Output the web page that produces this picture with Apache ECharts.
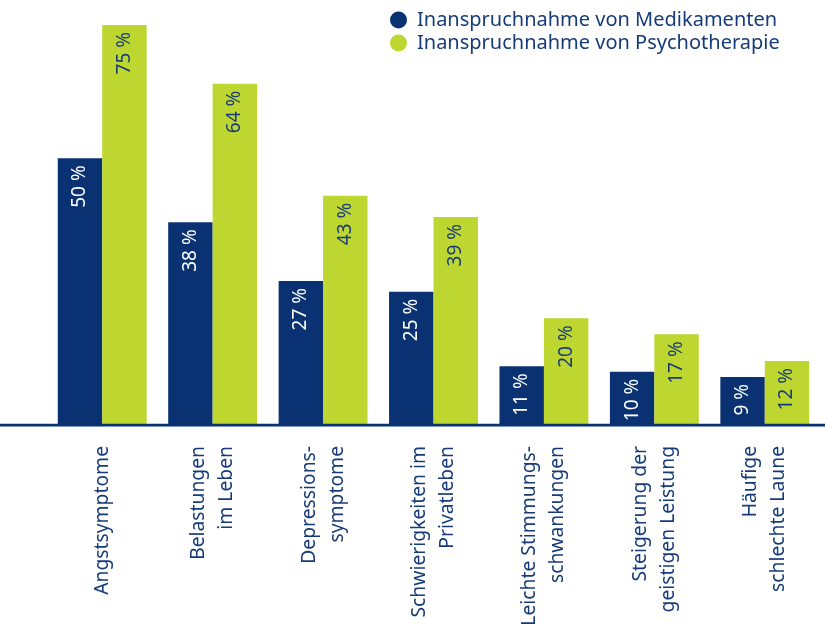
<!DOCTYPE html>
<html>
<head>
<meta charset="utf-8">
<script src="https://cdn.jsdelivr.net/npm/echarts@6/dist/echarts.min.js"></script>
<style>
  html, body { margin: 0; padding: 0; background: #ffffff; }
  #chart { width: 827px; height: 629px; }
</style>
</head>
<body>
<div id="chart"></div>
<script>
// Gründe für die Einnahme – Anteil in Prozent
var categories = [
  'Angstsymptome',
  'Belastungen\nim Leben',
  'Depressions-\nsymptome',
  'Schwierigkeiten im\nPrivatleben',
  'Leichte Stimmungs-\nschwankungen',
  'Steigerung der\ngeistigen Leistung',
  'Häufige\nschlechte Laune'
];
var medikamente = [50, 38, 27, 25, 11, 10, 9];
var psychotherapie = [75, 64, 43, 39, 20, 17, 12];
var seriesNames = ['Inanspruchnahme von Medikamenten', 'Inanspruchnahme von Psychotherapie'];

var BLUE = '#0a3272';
var GREEN = '#bed630';
var TEXT = '#163b78';
var FONT = '"Noto Sans", "Open Sans", sans-serif';

var chart = echarts.init(document.getElementById('chart'));

function barLabel(color) {
  return {
    show: true,
    position: 'insideTop',
    rotate: 90,
    align: 'right',
    verticalAlign: 'middle',
    distance: 7,
    color: color,
    fontFamily: FONT,
    fontSize: 19,
    formatter: function (p) { return p.value + ' %'; }
  };
}

chart.setOption({
  animation: false,
  textStyle: { fontFamily: FONT },
  legend: {
    orient: 'vertical',
    left: 385,
    top: 5,
    icon: 'circle',
    itemWidth: 17,
    itemHeight: 17,
    itemGap: 3,
    textStyle: { color: TEXT, fontSize: 20, fontFamily: FONT, padding: [0, 0, 0, 5] },
    data: seriesNames
  },
  grid: {
    left: 47, right: 7, top: 25, bottom: 204,
    containLabel: false,
    outerBoundsMode: 'none'
  },
  xAxis: {
    type: 'category',
    data: categories,
    axisLine: { show: false },
    axisTick: { show: false },
    axisLabel: {
      rotate: 90,
      margin: 21,
      color: TEXT,
      fontSize: 19.3,
      lineHeight: 28,
      fontFamily: FONT,
      interval: 0
    }
  },
  yAxis: {
    type: 'value',
    min: 0,
    max: 75,
    show: false,
    splitLine: { show: false }
  },
  series: [
    {
      name: seriesNames[0],
      type: 'bar',
      data: medikamente,
      barGap: '0%',
      barCategoryGap: '19.5%',
      itemStyle: { color: BLUE },
      label: barLabel('#ffffff')
    },
    {
      name: seriesNames[1],
      type: 'bar',
      data: psychotherapie,
      barGap: '0%',
      barCategoryGap: '19.5%',
      itemStyle: { color: GREEN },
      label: barLabel(TEXT)
    }
  ]
});

// Grundlinie über die gesamte Breite, auf Höhe des Nullwerts
var y0 = chart.convertToPixel({ yAxisIndex: 0 }, 0);
chart.setOption({
  graphic: [
    { type: 'line', shape: { x1: 0, y1: y0 + 1, x2: 825, y2: y0 + 1 },
      style: { stroke: '#5b7fb5', lineWidth: 1 }, z: 10 },
    { type: 'line', shape: { x1: 0, y1: y0, x2: 825, y2: y0 },
      style: { stroke: BLUE, lineWidth: 2.5 }, z: 11 }
  ]
});
</script>
</body>
</html>
